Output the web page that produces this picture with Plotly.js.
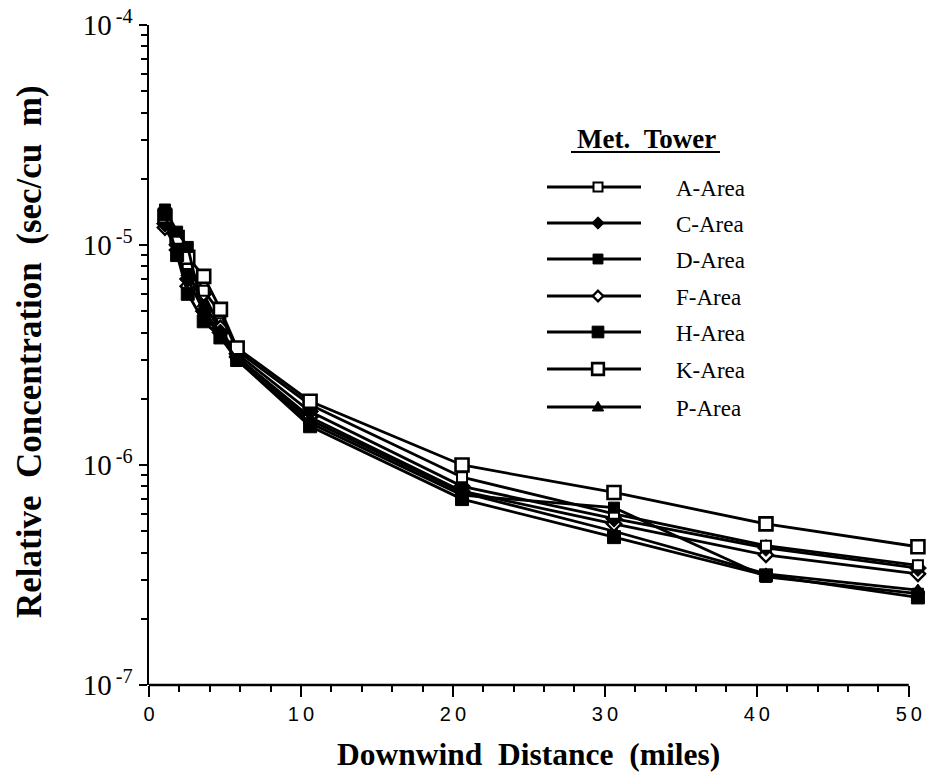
<!DOCTYPE html>
<html>
<head>
<meta charset="utf-8">
<script src="https://cdn.plot.ly/plotly-3.0.1.min.js"></script>
<style>html,body{margin:0;padding:0;background:#fff;}#chart{width:927px;height:779px;}</style>
</head>
<body>
<div id="chart"></div>
<script>
// Downwind distance (miles)
const distance = [1.05, 1.85, 2.55, 3.6, 4.7, 5.8, 10.6, 20.6, 30.6, 40.6, 50.6];
// Relative concentration (sec/cu m) per met. tower
const areaA = [1.30e-5, 1.05e-5, 8.2e-6, 6.2e-6, 4.9e-6, 3.3e-6, 1.88e-6, 8.8e-7, 6.0e-7, 4.3e-7, 3.5e-7];
const areaC = [1.25e-5, 1.00e-5, 7.0e-6, 5.0e-6, 4.0e-6, 3.2e-6, 1.75e-6, 8.0e-7, 5.7e-7, 4.2e-7, 3.4e-7];
const areaD = [1.45e-5, 1.15e-5, 9.8e-6, 4.8e-6, 3.9e-6, 3.0e-6, 1.55e-6, 7.3e-7, 6.4e-7, 3.1e-7, 2.6e-7];
const areaF = [1.20e-5, 9.5e-6, 6.5e-6, 6.0e-6, 4.2e-6, 3.1e-6, 1.65e-6, 7.6e-7, 5.4e-7, 3.9e-7, 3.2e-7];
const areaH = [1.38e-5, 9.0e-6, 6.0e-6, 4.5e-6, 3.8e-6, 3.0e-6, 1.50e-6, 7.0e-7, 4.7e-7, 3.15e-7, 2.5e-7];
const areaK = [1.35e-5, 1.08e-5, 8.8e-6, 7.2e-6, 5.1e-6, 3.4e-6, 1.95e-6, 1.0e-6, 7.5e-7, 5.4e-7, 4.25e-7];
const areaP = [1.28e-5, 9.8e-6, 7.5e-6, 5.4e-6, 4.1e-6, 3.1e-6, 1.60e-6, 7.5e-7, 5.0e-7, 3.2e-7, 2.7e-7];

const seriesNames = ["A-Area", "C-Area", "D-Area", "F-Area", "H-Area", "K-Area", "P-Area"];
const seriesValues = [areaA, areaC, areaD, areaF, areaH, areaK, areaP];

const xTickVals = [0, 10, 20, 30, 40, 50];
const xTickText = ["0", "1\u20090", "2\u20090", "3\u20090", "4\u20090", "5\u20090"];
const xMinorVals = [2,4,6,8,12,14,16,18,22,24,26,28,32,34,36,38,42,44,46,48];
const yTickVals = [1e-7, 1e-6, 1e-5, 1e-4];
const yTickText = ["10<sup>\u2009-7</sup>", "10<sup>\u2009-6</sup>", "10<sup>\u2009-5</sup>", "10<sup>\u2009-4</sup>"];
const yMinorVals = [2e-7,3e-7,4e-7,5e-7,6e-7,7e-7,8e-7,9e-7,2e-6,3e-6,4e-6,5e-6,6e-6,7e-6,8e-6,9e-6,2e-5,3e-5,4e-5,5e-5,6e-5,7e-5,8e-5,9e-5];

const xTitle = "Downwind\u00a0\u00a0Distance\u00a0\u00a0(miles)";
const yTitle = "Relative\u00a0\u00a0Concentration\u00a0\u00a0(sec/cu\u00a0\u00a0m)";
const legendTitle = "Met.\u00a0\u00a0Tower";

// marker styles (style only)
const styles = {
  "A-Area": {symbol: "square", size: 10, fill: "#fff", lw: 2},
  "C-Area": {symbol: "diamond", size: 13, fill: "#000", lw: 1},
  "D-Area": {symbol: "square", size: 11, fill: "#000", lw: 1},
  "F-Area": {symbol: "diamond", size: 11, fill: "#fff", lw: 2.4},
  "H-Area": {symbol: "square", size: 13, fill: "#000", lw: 1},
  "K-Area": {symbol: "square", size: 13, fill: "#fff", lw: 2.6},
  "P-Area": {symbol: "triangle-up", size: 12, fill: "#000", lw: 1}
};

const drawOrder = ["P-Area", "F-Area", "C-Area", "A-Area", "K-Area", "H-Area", "D-Area"];
const traces = drawOrder.map(name => {
  const i = seriesNames.indexOf(name);
  const s = styles[name];
  return {
    type: "scatter", mode: "lines+markers", name: name,
    x: distance, y: seriesValues[i],
    line: {color: "#000", width: 2.8},
    marker: {symbol: s.symbol, size: s.size, color: s.fill, line: {color: "#000", width: s.lw}},
    cliponaxis: false,
    showlegend: false
  };
});

// plot-area geometry (pixels) for legend drawn in paper coordinates
const L = 149, R = 924, T = 25, B = 685;
const W = R - L, H = B - T;
const px = v => (v - L) / W;
const py = v => (B - v) / H;

const serif = "Liberation Serif";
const shapes = [
  {type: "line", xref: "x", yref: "paper", x0: 0, x1: 50, y0: 0, y1: 0, line: {color: "#000", width: 2.5}},
  {type: "line", xref: "paper", yref: "paper", x0: px(571), x1: px(720), y0: py(152), y1: py(152), line: {color: "#000", width: 1.8}}
];
const annotations = [
  {xref: "paper", yref: "paper", x: px(646), y: py(139), text: "<b>" + legendTitle + "</b>", showarrow: false,
   font: {family: serif, size: 27, color: "#000"}, xanchor: "center", yanchor: "middle"},
  {xref: "paper", yref: "paper", x: px(528), y: py(755), text: "<b>" + xTitle + "</b>", showarrow: false,
   font: {family: serif, size: 31.5, color: "#000"}, xanchor: "center", yanchor: "middle"},
  {xref: "paper", yref: "paper", x: px(29), y: py(352), text: "<b>" + yTitle + "</b>", showarrow: false, textangle: -90,
   font: {family: serif, size: 35, color: "#000"}, xanchor: "center", yanchor: "middle"}
];
const rowY = [187, 223, 259, 296, 332, 369, 407];
seriesNames.forEach((name, k) => {
  const y = rowY[k];
  shapes.push({type: "line", xref: "paper", yref: "paper", x0: px(547), x1: px(641), y0: py(y), y1: py(y), line: {color: "#000", width: 2.8}});
  const s = styles[name];
  const cx = 598;
  const h = s.size / 2;
  const base = {xref: "paper", yref: "paper", fillcolor: s.fill, line: {color: "#000", width: s.lw}};
  if (s.symbol === "square") {
    shapes.push(Object.assign({type: "rect", x0: px(cx - h * 0.9), x1: px(cx + h * 0.9), y0: py(y + h * 0.9), y1: py(y - h * 0.9)}, base));
  } else if (s.symbol === "diamond") {
    const d = h * 0.95;
    shapes.push(Object.assign({type: "path", path: `M ${px(cx)} ${py(y - d)} L ${px(cx + d)} ${py(y)} L ${px(cx)} ${py(y + d)} L ${px(cx - d)} ${py(y)} Z`}, base));
  } else {
    const d = h * 0.95;
    shapes.push(Object.assign({type: "path", path: `M ${px(cx)} ${py(y - d)} L ${px(cx + d)} ${py(y + d * 0.7)} L ${px(cx - d)} ${py(y + d * 0.7)} Z`}, base));
  }
  annotations.push({xref: "paper", yref: "paper", x: px(674), y: py(y + 1), text: name, showarrow: false,
    font: {family: serif, size: 23, color: "#000"}, xanchor: "left", yanchor: "middle"});
});

const layout = {
  width: 927, height: 779,
  margin: {l: L, r: 927 - R, t: T, b: 779 - B, pad: 0},
  paper_bgcolor: "#fff", plot_bgcolor: "#fff",
  showlegend: false,
  xaxis: {
    range: [0, 51], showgrid: false, zeroline: false, showline: false,
    tickmode: "array", tickvals: xTickVals, ticktext: xTickText,
    ticks: "outside", ticklen: 11, tickwidth: 2, tickcolor: "#000",
    minor: {tickmode: "array", tickvals: xMinorVals, ticks: "outside", ticklen: 6, tickwidth: 2, tickcolor: "#000", showgrid: false},
    tickfont: {family: "Liberation Sans", size: 20, color: "#000"}
  },
  yaxis: {
    type: "log", range: [-7, -4], showgrid: false, zeroline: false,
    showline: true, linewidth: 2.5, linecolor: "#000",
    tickmode: "array", tickvals: yTickVals, ticktext: yTickText,
    ticks: "outside", ticklen: 8, tickwidth: 2, tickcolor: "#000",
    minor: {tickmode: "array", tickvals: yMinorVals, ticks: "outside", ticklen: 6, tickwidth: 2, tickcolor: "#000", showgrid: false},
    tickfont: {family: serif, size: 29, color: "#000"}
  },
  shapes: shapes,
  annotations: annotations
};

Plotly.newPlot("chart", traces, layout, {staticPlot: true, displayModeBar: false});
</script>
</body>
</html>
